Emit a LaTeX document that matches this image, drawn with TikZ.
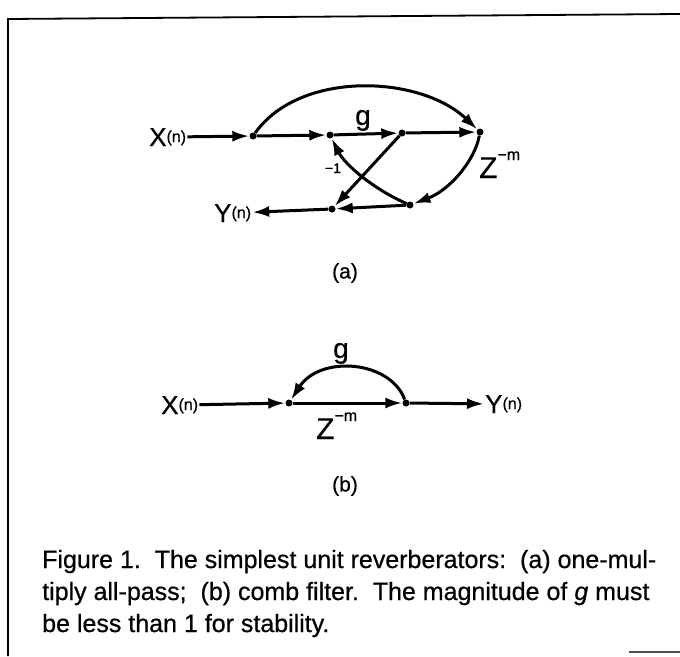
\documentclass[tikz,border=0pt]{standalone}
\usepackage{fontspec}
\setmainfont{Liberation Sans}[FakeBold=0.6]
\usetikzlibrary{arrows.meta}

\newcommand{\sml}[1]{{\fontsize{16}{16}\selectfont #1}}

\begin{document}
\begin{tikzpicture}[x=1pt, y=-1pt, >={Latex[length=17pt,width=11pt]},
    dot/.style={circle, fill, inner sep=0pt, minimum size=7pt},
    wire/.style={line width=3pt},
    lbl/.style={inner sep=1pt, font=\fontsize{26}{26}\selectfont},
    gain/.style={inner sep=0pt, font=\fontsize{28}{28}\selectfont},
    delay/.style={inner sep=0pt, font=\fontsize{30}{30}\selectfont},
    tag/.style={inner sep=0pt, font=\fontsize{21}{21}\selectfont},
    capline/.style={anchor=base west, inner sep=0pt, font=\fontsize{25}{30}\selectfont}]

    \useasboundingbox (0,0) rectangle (680,656);

    % frame
    \draw[line width=1.8pt] (8,656) -- (8,19) -- (680,14);
    \draw[line width=1.8pt, black!70] (629,652) -- (680,652);

    % (a) one-multiply all-pass
    \node[dot] (a1) at (253,136) {};
    \node[dot] (a2) at (330,135) {};
    \node[dot] (a3) at (402,133) {};
    \node[dot] (a4) at (480,132) {};
    \node[dot] (a5) at (410,205) {};
    \node[dot] (a6) at (332,209) {};
    \node[lbl, anchor=base west] (xa) at (148,146) {X\raisebox{4pt}{\sml{(n)}}};
    \node[lbl, anchor=base west] (ya) at (213,222) {Y\raisebox{4pt}{\sml{(n)}}};

    \draw[wire, ->] (xa) -- (a1);
    \draw[wire, ->] (a1) -- (a2);
    \draw[wire, ->] (a2) -- (a3);
    \draw[wire, ->] (a3) -- (a4);
    \draw[wire, ->] (a1) .. controls (300,70) and (420,75) .. (a4);
    \draw[wire, ->] (a4) .. controls (475,160) and (450,190) .. (a5);
    \draw[wire, ->] (a5) -- (a6);
    \draw[wire, ->] (a3) -- (a6);
    \draw[wire, ->] (a5) .. controls (375,190) and (345,165) .. (a2);
    \draw[wire, ->] (a6) -- (ya);

    \node[gain, anchor=base] (ga) at (363,125) {g};
    \node[tag, font=\fontsize{14}{14}\selectfont, anchor=base] (ka) at (333,173) {−1};
    \node[delay, anchor=base west] (za) at (479,178) {Z\raisebox{18pt}{\sml{−m}}};
    \node[tag] (la) at (345,273) {(a)};

    % (b) comb filter
    \node[dot] (b1) at (289,403) {};
    \node[dot] (b2) at (406,403) {};
    \node[lbl, anchor=base west] (xb) at (160,414) {X\raisebox{4pt}{\sml{(n)}}};
    \node[lbl, anchor=base west] (yb) at (484,413) {Y\raisebox{4pt}{\sml{(n)}}};

    \draw[wire, ->] (xb) -- (b1);
    \draw[wire, ->] (b1) -- (b2);
    \draw[wire, ->] (b2) -- (yb);
    \draw[wire, ->] (b2) .. controls (390,360) and (320,355) .. (b1);

    \node[gain, anchor=base] (gb) at (341,358) {g};
    \node[delay, anchor=base west] (zb) at (316,439) {Z\raisebox{18pt}{\sml{−m}}};
    \node[tag] (lb) at (345,486) {(b)};

    % caption
    \node[capline] (c1) at (42,568) {Figure 1.\ \ The simplest unit reverberators:\ \ (a) one-mul-};
    \node[capline] (c2) at (42,600) {tiply all-pass;\ \ (b) comb filter.\ \ The magnitude of \textit{g} must};
    \node[capline] (c3) at (42,632) {be less than 1 for stability.};

\end{tikzpicture}
\end{document}
